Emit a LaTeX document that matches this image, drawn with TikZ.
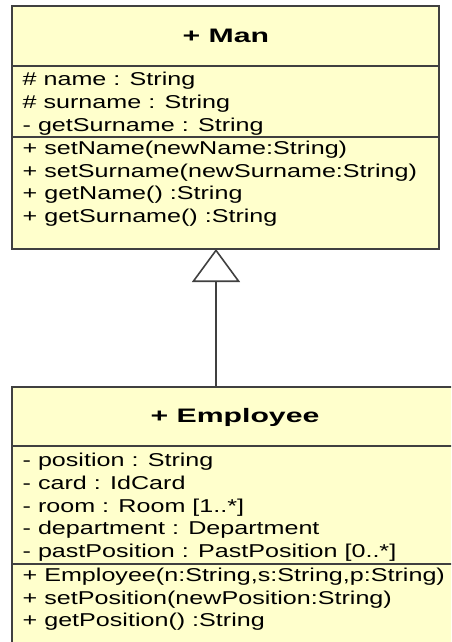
\documentclass[tikz,border=0pt]{standalone}
\usepackage{fontspec}
\setmainfont{Liberation Sans}
\usetikzlibrary{arrows.meta,calc}
\definecolor{classfill}{RGB}{255,255,204}
\definecolor{edgegray}{RGB}{64,64,64}
\newcommand{\regtxt}[1]{\scalebox{1.35}[1]{#1}}
\newcommand{\boldtxt}[1]{\scalebox{1.55}[1]{#1}}
\begin{document}
\begin{tikzpicture}[x=1pt,y=-1pt,
  classbox/.style={draw=edgegray, line width=1.8pt, fill=classfill, rectangle, inner sep=0pt, outer sep=0pt, anchor=north west},
  divider/.style={draw=edgegray, line width=1.6pt},
  member/.style={anchor=base west, inner sep=0pt, font=\fontsize{18.6}{22}\selectfont},
  title/.style={anchor=base, inner sep=0pt, font=\fontsize{19.5}{22}\selectfont\bfseries},
  inherit/.style={draw=edgegray, line width=1.6pt, -{Triangle[open, length=33pt, width=48pt, fill=white]}}]
\useasboundingbox (0,0) rectangle (451,642);
\clip (0,0) rectangle (451,642);
% Man class
\node[classbox, minimum width=427pt, minimum height=243pt] (man) at (12,6) {};
\draw[divider] ([yshift=-60pt]man.north west) -- ([yshift=-60pt]man.north east);
\draw[divider] ([yshift=-131pt]man.north west) -- ([yshift=-131pt]man.north east);
\node[title] (mantitle) at (225.8,42.3) {\boldtxt{+ Man}};
\node[member] (ma1) at (22.5,85.8) {\regtxt{\# name : String}};
\node[member] (ma2) at (22.5,108.6) {\regtxt{\# surname : String}};
\node[member] (ma3) at (22.5,131.4) {\regtxt{- getSurname : String}};
\node[member] (mm1) at (22.5,154.2) {\regtxt{+ setName(newName:String)}};
\node[member] (mm2) at (22.5,177.0) {\regtxt{+ setSurname(newSurname:String)}};
\node[member] (mm3) at (22.5,199.8) {\regtxt{+ getName() :String}};
\node[member] (mm4) at (22.5,222.6) {\regtxt{+ getSurname() :String}};
% Employee class
\node[classbox, minimum width=449pt, minimum height=300pt] (emp) at (12,386.7) {};
\draw[divider] ([yshift=-59.3pt]emp.north west) -- ([yshift=-59.3pt]emp.north east);
\draw[divider] ([yshift=-177.3pt]emp.north west) -- ([yshift=-177.3pt]emp.north east);
\node[title] (emptitle) at (235,422.3) {\boldtxt{+ Employee}};
\node[member] (ea1) at (22.5,466.6) {\regtxt{- position : String}};
\node[member] (ea2) at (22.5,489.3) {\regtxt{- card : IdCard}};
\node[member] (ea3) at (22.5,512.0) {\regtxt{- room : Room [1..*]}};
\node[member] (ea4) at (22.5,534.7) {\regtxt{- department : Department}};
\node[member] (ea5) at (22.5,557.4) {\regtxt{- pastPosition : PastPosition [0..*]}};
\node[member] (em1) at (22.5,581.5) {\regtxt{+ Employee(n:String,s:String,p:String)}};
\node[member] (em2) at (22.5,604.1) {\regtxt{+ setPosition(newPosition:String)}};
\node[member] (em3) at (22.5,626.7) {\regtxt{+ getPosition() :String}};
% generalization
\coordinate (ax) at (216,0);
\draw[inherit] (ax |- emp.north) -- (ax |- man.south);
\end{tikzpicture}
\end{document}
